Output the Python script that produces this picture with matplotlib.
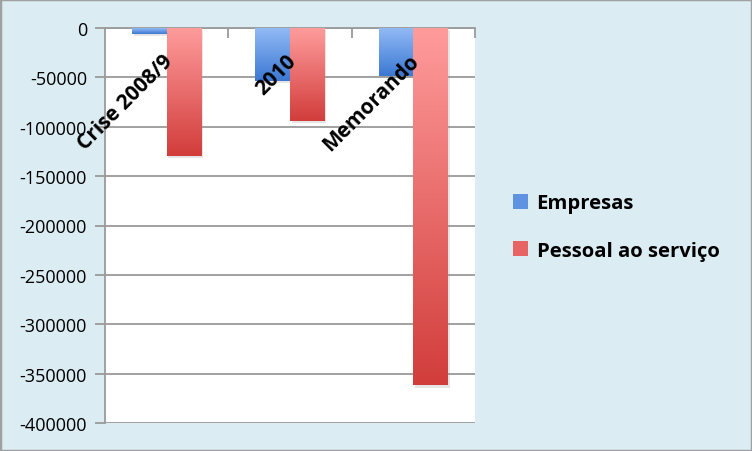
import numpy as np
import matplotlib
matplotlib.use("Agg")
import matplotlib.pyplot as plt
import matplotlib.patheffects as pe
from matplotlib.colors import LinearSegmentedColormap
from matplotlib.patches import Patch, Rectangle

# Dados (variação)
categorias = ["Crise 2008/9", "2010", "Memorando"]
empresas = [-6000, -54000, -49000]
pessoal = [-130000, -94000, -362000]
series = ["Empresas", "Pessoal ao serviço"]

plt.rcParams['font.family'] = ['Open Sans', 'DejaVu Sans']

bg = '#dbedf3'
grid_c = '#9a9a9a'

fig = plt.figure(figsize=(7.52, 4.52), dpi=100, facecolor=bg)
ax = fig.add_axes([105/752, 1 - 424/452, 370/752, 395/452])
ax.set_facecolor('white')

# Gradientes (claro em cima, escuro em baixo)
cmap_azul = LinearSegmentedColormap.from_list('azul', ['#93bbf6', '#3b78d3'])
cmap_verm = LinearSegmentedColormap.from_list('verm', ['#ff9c9c', '#d13d3b'])
grad = np.linspace(0, 1, 256).reshape(-1, 1)

x = np.arange(len(categorias))
w = 0.282
sombra = [pe.SimplePatchShadow(offset=(1.2, -1.5), shadow_rgbFace='#999999', alpha=0.25), pe.Normal()]

for vals, dx, cmap in [(empresas, -w/2, cmap_azul), (pessoal, w/2, cmap_verm)]:
    bars = ax.bar(x + dx, vals, width=w, facecolor='none', edgecolor='none',
                  zorder=2, path_effects=sombra)
    for b, v in zip(bars, vals):
        x0 = b.get_x()
        im = ax.imshow(grad, extent=[x0, x0 + w, v, 0], aspect='auto',
                       cmap=cmap, zorder=3, interpolation='bilinear')
        im.set_clip_path(b)

ax.set_xlim(-0.5, 2.5)
ax.set_ylim(-400000, 0)
ax.set_yticks(np.arange(-400000, 1, 50000))
ax.set_yticklabels([str(v) for v in np.arange(-400000, 1, 50000)], fontsize=13)
ax.yaxis.grid(True, color=grid_c, linewidth=1.3, zorder=0)
ax.set_axisbelow(True)
ax.tick_params(axis='y', length=7, width=1.3, color=grid_c, pad=6)

# Eixo dos x no topo (cruza no zero)
ax.set_xticks([])
ax.set_xticks([0.5, 1.5, 2.5], minor=True)
ax.tick_params(axis='x', which='minor', direction='in', top=True, bottom=False,
               length=7, width=1.3, color=grid_c)
for s in ['right', 'bottom']:
    ax.spines[s].set_visible(False)
for s in ['left', 'top']:
    ax.spines[s].set_color(grid_c)
    ax.spines[s].set_linewidth(1.3)

for i, c in enumerate(categorias):
    ax.annotate(c, xy=(i, 0), xytext=(-3.5, -16), textcoords='offset points',
                rotation=45, rotation_mode='anchor', ha='right', va='top',
                fontsize=15, fontweight='bold', zorder=5)

handles = [Patch(facecolor='#5f93e2', edgecolor='none'),
           Patch(facecolor='#e86363', edgecolor='none')]
fig.legend(handles, series, loc='center left', bbox_to_anchor=(495/752, 1 - 228/452),
           frameon=False, prop={'weight': 'bold', 'size': 14.6},
           handlelength=0.75, handleheight=0.75, handletextpad=0.4, labelspacing=1.35)

fig.patches.append(Rectangle((0, 0), 1, 1, transform=fig.transFigure, fill=False,
                             edgecolor='#a0a0a0', linewidth=2.5))

fig.savefig('out.png', dpi=100, facecolor=bg)
